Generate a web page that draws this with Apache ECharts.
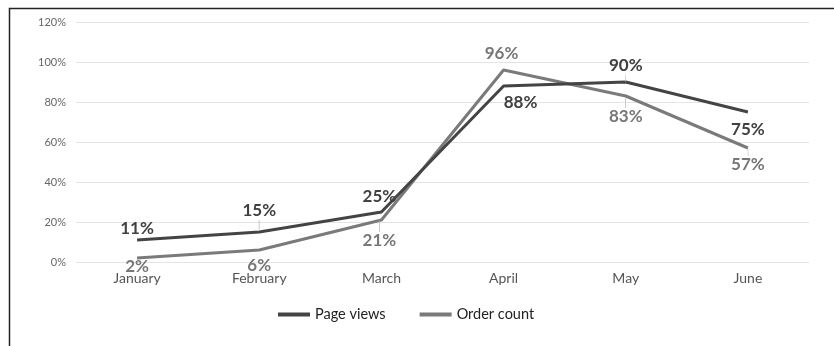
<!DOCTYPE html>
<html>
<head>
<meta charset="utf-8">
<script src="https://cdn.jsdelivr.net/npm/echarts@6/dist/echarts.min.js"></script>
<style>
  html, body { margin: 0; padding: 0; background: #fff; }
  #chart { width: 834px; height: 346px; }
</style>
</head>
<body>
<div id="chart"></div>
<script>
// Monthly share of traffic and orders
const months = ['January', 'February', 'March', 'April', 'May', 'June'];
const pageViews = [11, 15, 25, 88, 90, 75];
const orderCount = [2, 6, 21, 96, 83, 57];
const yTicks = [0, 20, 40, 60, 80, 100, 120];

const FONT = 'Lato, "Open Sans", sans-serif';

// value-label placement per point: side, gap, horizontal shift, guide tick style
const pvPlace = [
  { pos: 'top', dist: 3, dx: 0, tick: '' },
  { pos: 'top', dist: 1, dx: 0, tick: 'tl' },
  { pos: 'top', dist: 7, dx: -2, tick: '' },
  { pos: 'bottom', dist: 8, dx: 17, tick: '' },
  { pos: 'top', dist: 0, dx: 0, tick: 'ts' },
  { pos: 'bottom', dist: 9, dx: 0, tick: '' }
];
const ocPlace = [
  { pos: 'bottom', dist: 0, dx: 0, tick: '' },
  { pos: 'bottom', dist: 7, dx: 0, tick: '' },
  { pos: 'bottom', dist: 0, dx: -2, tick: 'tl' },
  { pos: 'top', dist: 8, dx: -2, tick: '' },
  { pos: 'bottom', dist: 0, dx: 0, tick: 'tl' },
  { pos: 'bottom', dist: 0, dx: 0, tick: 'ts' }
];

function labelText(value, pl) {
  const v = '{v|' + value + '%}';
  if (!pl.tick) return v;
  const t = '{' + pl.tick + '||}';
  return pl.pos === 'top' ? v + '\n' + t : t + '\n' + v;
}

function buildData(values, place, color) {
  return values.map((val, i) => ({
    value: val,
    label: {
      show: true,
      position: place[i].pos,
      distance: place[i].dist,
      offset: [place[i].dx, 0],
      formatter: labelText(val, place[i]),
      rich: {
        v: { color: color, fontFamily: FONT, fontWeight: 'bold', fontSize: 17, lineHeight: 17 }
      }
    }
  }));
}

const chart = echarts.init(document.getElementById('chart'), null, { renderer: 'canvas' });

const labelBase = {
  show: true,
  fontFamily: FONT,
  rich: {
    v: { fontFamily: FONT, fontWeight: 'bold', fontSize: 17, lineHeight: 17 },
    tl: { color: '#bdbdbd', fontFamily: FONT, fontSize: 11, lineHeight: 12 },
    ts: { color: '#bdbdbd', fontFamily: FONT, fontSize: 8, lineHeight: 8 }
  }
};

chart.setOption({
  animation: false,
  backgroundColor: '#fff',
  graphic: [{
    type: 'rect',
    shape: { x: 9.5, y: 8.5, width: 900, height: 400 },
    style: { fill: 'none', stroke: '#222', lineWidth: 1.5 },
    silent: true
  }],
  grid: { left: 76, right: 25, top: 22, bottom: 84 },
  legend: {
    bottom: 19,
    left: 273,
    itemWidth: 32,
    itemHeight: 4,
    itemGap: 34,
    icon: 'rect',
    textStyle: { fontFamily: FONT, fontSize: 14.5, color: '#222' },
    data: ['Page views', 'Order count']
  },
  xAxis: {
    type: 'category',
    data: months,
    boundaryGap: true,
    axisLine: { show: false },
    axisTick: { show: false },
    axisLabel: { color: '#555', fontFamily: FONT, fontSize: 14, margin: 9 }
  },
  yAxis: {
    type: 'value',
    min: yTicks[0],
    max: yTicks[yTicks.length - 1],
    interval: 20,
    axisLine: { show: false },
    axisTick: { show: false },
    axisLabel: { color: '#666', fontFamily: FONT, fontSize: 11, margin: 10, formatter: '{value}%' },
    splitLine: { lineStyle: { color: '#e4e4e4', width: 1 } }
  },
  series: [
    {
      name: 'Page views',
      type: 'line',
      data: buildData(pageViews, pvPlace, '#404040'),
      symbol: 'circle',
      symbolSize: 0,
      showSymbol: true,
      color: '#444',
      lineStyle: { width: 3, color: '#444' },
      label: labelBase,
      z: 3
    },
    {
      name: 'Order count',
      type: 'line',
      data: buildData(orderCount, ocPlace, '#777'),
      symbol: 'circle',
      symbolSize: 0,
      showSymbol: true,
      color: '#7a7a7a',
      lineStyle: { width: 3, color: '#7a7a7a' },
      label: labelBase,
      z: 2
    }
  ]
});
</script>
</body>
</html>
